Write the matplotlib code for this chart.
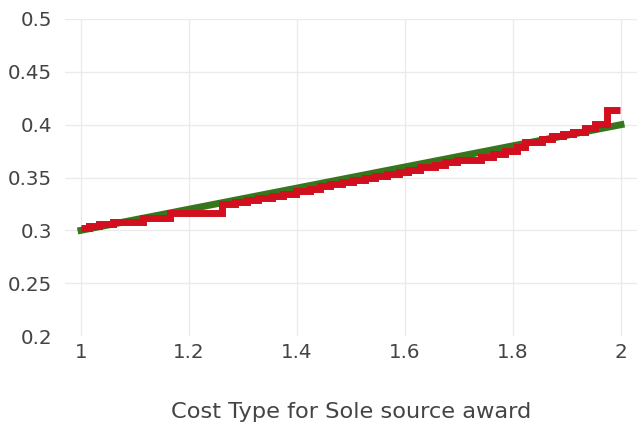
import matplotlib
matplotlib.use("Agg")
import matplotlib.pyplot as plt

# red step series: x where each step starts, value held until next x
step_x = [1.000, 1.014, 1.033, 1.060, 1.115, 1.165, 1.261, 1.285, 1.307, 1.328,
          1.353, 1.374, 1.399, 1.424, 1.443, 1.461, 1.483, 1.504, 1.526, 1.544,
          1.566, 1.588, 1.606, 1.628, 1.656, 1.674, 1.696, 1.741, 1.763, 1.785,
          1.807, 1.822, 1.853, 1.872, 1.893, 1.912, 1.933, 1.952, 1.974, 1.998]
step_y = [0.3023, 0.3041, 0.3057, 0.3079, 0.3120, 0.3165, 0.3250, 0.3270, 0.3288, 0.3305,
          0.3327, 0.3348, 0.3368, 0.3392, 0.3419, 0.3440, 0.3459, 0.3475, 0.3497, 0.3513,
          0.3535, 0.3551, 0.3570, 0.3595, 0.3622, 0.3644, 0.3663, 0.3691, 0.3723, 0.3755,
          0.3793, 0.3838, 0.3867, 0.3892, 0.3907, 0.3930, 0.3971, 0.4011, 0.4138, 0.4138]

# green reference line
line_x = [1, 2]
line_y = [0.3, 0.4]

xticks = [1, 1.2, 1.4, 1.6, 1.8, 2]
xtick_labels = ["1", "1.2", "1.4", "1.6", "1.8", "2"]
yticks = [0.2, 0.25, 0.3, 0.35, 0.4, 0.45, 0.5]
ytick_labels = ["0.2", "0.25", "0.3", "0.35", "0.4", "0.45", "0.5"]

fig = plt.figure(figsize=(6.42, 4.24), dpi=100)
ax = fig.add_axes([64.8 / 642, 88 / 424, 572.4 / 642, 317 / 424])

ax.plot(line_x, line_y, color="#38761d", lw=5, solid_capstyle="projecting", zorder=3)
ax.step(step_x, step_y, where="post", color="#d10f1e", lw=5,
        solid_capstyle="butt", solid_joinstyle="miter", zorder=4)

ax.set_xlim(0.97, 2.03)
ax.set_ylim(0.2, 0.5)
ax.set_xticks(xticks)
ax.set_xticklabels(xtick_labels)
ax.set_yticks(yticks)
ax.set_yticklabels(ytick_labels)
ax.grid(True, color="#ebebeb", lw=1)
ax.get_ygridlines()[0].set_visible(False)
ax.set_axisbelow(True)
for s in ax.spines.values():
    s.set_visible(False)
ax.tick_params(length=0, labelsize=14.3, colors="#444444")
ax.tick_params(axis="y", pad=9)
ax.tick_params(axis="x", pad=5)

ax.set_xlabel("Cost Type for Sole source award", fontsize=16.2, color="#444444", labelpad=28.5)

fig.savefig("out.png", dpi=100)
